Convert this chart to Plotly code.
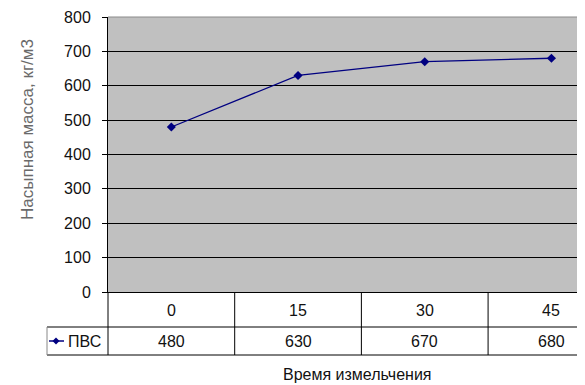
import plotly.graph_objects as go

categories = ["0", "15", "30", "45"]
series_name = "ПВС"
values = [480, 630, 670, 680]
y_ticks = [0, 100, 200, 300, 400, 500, 600, 700, 800]
x_title = "Время измельчения"
y_title = "Насыпная масса, кг/м3"

# The page body has an 8px default margin; size the figure to fill the rest.
OFF = 8
W, H = 585 - OFF, 385 - OFF
L, R, T, B = 108 - OFF, 0, 17 - OFF, 385 - 292
plot_w = W - L - R
plot_h = H - T - B
xr = [-0.5, 3.265]

def px_to_paper_x(px):
    return (px - OFF - L) / plot_w

def px_to_paper_y(py):
    return (H - B - (py - OFF)) / plot_h

def cat_to_paper_x(v):
    return (v - xr[0]) / (xr[1] - xr[0])

FONT = "Liberation Sans, Arial, sans-serif"
LINE_COLOR = "#000080"

fig = go.Figure()
fig.add_trace(go.Scatter(
    x=list(range(len(categories))), y=values, mode="lines+markers",
    line=dict(color=LINE_COLOR, width=1.3),
    marker=dict(symbol="diamond", size=7, color=LINE_COLOR),
    name=series_name, showlegend=False, cliponaxis=False,
))

shapes = []
row_sep = px_to_paper_y(327)
row_bot = px_to_paper_y(355)
leg_left = px_to_paper_x(47)
shapes.append(dict(type="line", xref="paper", yref="paper", x0=leg_left, x1=1, y0=row_sep, y1=row_sep,
                   line=dict(color="black", width=1)))
shapes.append(dict(type="line", xref="paper", yref="paper", x0=leg_left, x1=1, y0=row_bot, y1=row_bot,
                   line=dict(color="black", width=1)))
shapes.append(dict(type="line", xref="paper", yref="paper", x0=0, x1=0, y0=0, y1=row_bot,
                   line=dict(color="black", width=1)))
shapes.append(dict(type="line", xref="paper", yref="paper", x0=leg_left, x1=leg_left, y0=row_sep, y1=row_bot,
                   line=dict(color="#888888", width=1)))
for i in range(len(categories)):
    xb = cat_to_paper_x(i + 0.5)
    if xb < 1:
        shapes.append(dict(type="line", xref="paper", yref="paper", x0=xb, x1=xb, y0=0, y1=row_bot,
                           line=dict(color="black", width=1)))
shapes.append(dict(type="line", xref="paper", yref="paper", x0=0, x1=1, y0=1, y1=1,
                   line=dict(color="#8a8a8a", width=1)))
ky = px_to_paper_y(341)
shapes.append(dict(type="line", xref="paper", yref="paper", x0=px_to_paper_x(49), x1=px_to_paper_x(64),
                   y0=ky, y1=ky, line=dict(color=LINE_COLOR, width=1.5)))
kx = px_to_paper_x(56)
d = 3.5
shapes.append(dict(type="path", xref="paper", yref="paper",
                   path=f"M {kx} {ky + d/plot_h} L {kx + d/plot_w} {ky} L {kx} {ky - d/plot_h} L {kx - d/plot_w} {ky} Z",
                   fillcolor=LINE_COLOR, line=dict(color=LINE_COLOR, width=0)))

annotations = []
r1y = px_to_paper_y(310)
r2y = px_to_paper_y(341)
for i, (c, v) in enumerate(zip(categories, values)):
    annotations.append(dict(x=i, y=r1y, xref="x", yref="paper", text=c, showarrow=False,
                            font=dict(family=FONT, size=16, color="#111"), xanchor="center", yanchor="middle"))
    annotations.append(dict(x=i, y=r2y, xref="x", yref="paper", text=str(v), showarrow=False,
                            font=dict(family=FONT, size=16, color="#111"), xanchor="center", yanchor="middle"))
annotations.append(dict(x=px_to_paper_x(66), y=r2y, xref="paper", yref="paper", text=series_name, showarrow=False,
                        font=dict(family=FONT, size=16, color="#111"), xanchor="left", yanchor="middle"))
annotations.append(dict(x=px_to_paper_x(357), y=px_to_paper_y(374), xref="paper", yref="paper", text=x_title,
                        showarrow=False, font=dict(family=FONT, size=16, color="#111"),
                        xanchor="center", yanchor="middle"))
annotations.append(dict(x=px_to_paper_x(27), y=px_to_paper_y(130), xref="paper", yref="paper", text=y_title,
                        showarrow=False, textangle=-90, font=dict(family=FONT, size=17, color="#6a6a6a"),
                        xanchor="center", yanchor="middle"))

fig.update_layout(
    width=W, height=H,
    margin=dict(l=L, r=R, t=T, b=B, pad=0),
    paper_bgcolor="white", plot_bgcolor="#c0c0c0",
    shapes=shapes, annotations=annotations,
    xaxis=dict(range=xr, showticklabels=False, showgrid=False, zeroline=False,
               showline=True, linecolor="black", linewidth=1, ticks="", fixedrange=True),
    yaxis=dict(range=[0, 800], tickvals=y_ticks, ticktext=[str(t) for t in y_ticks],
               showgrid=True, gridcolor="black", gridwidth=1, zeroline=False,
               showline=True, linecolor="black", linewidth=1,
               ticks="outside", ticklen=5, tickcolor="black", ticklabelstandoff=8,
               tickfont=dict(family=FONT, size=16, color="#111")),
    showlegend=False,
)

fig.write_html("out.html")
